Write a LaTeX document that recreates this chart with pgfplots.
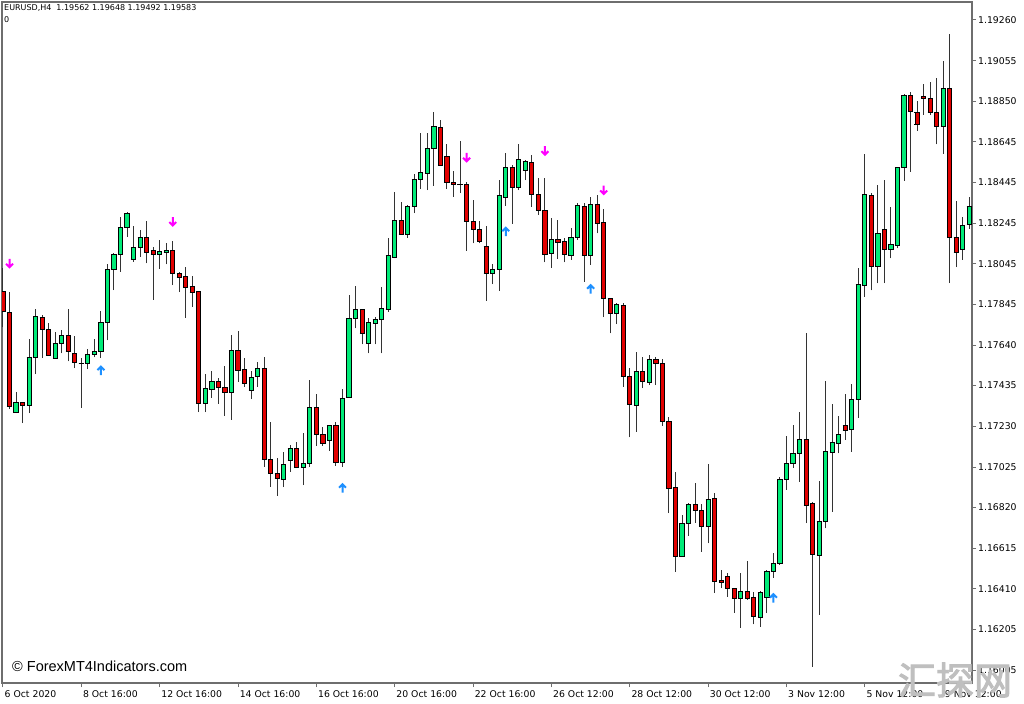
\documentclass[border=0pt]{standalone}
\usepackage{fontspec}
\setmainfont{DejaVu Sans}
\newfontfamily\lib{Liberation Sans}
\newfontfamily\cjk[AutoFakeBold=2.5]{Noto Sans CJK SC}
\usepackage{pgfplots}
\usepackage{pgfplotstable}
\pgfplotsset{compat=1.18}

\definecolor{bullg}{RGB}{0,235,120}
\definecolor{bearr}{RGB}{225,0,0}
\definecolor{sellm}{RGB}{255,0,255}
\definecolor{buyb}{RGB}{30,144,255}
\definecolor{framec}{RGB}{110,110,110}

% arrow marks of the signal indicator
\pgfdeclareplotmark{darr}{%
  \pgfsetlinewidth{2bp}%
  \pgfpathmoveto{\pgfqpoint{0bp}{4.5bp}}\pgfpathlineto{\pgfqpoint{0bp}{-4bp}}%
  \pgfpathmoveto{\pgfqpoint{-3.5bp}{-0.5bp}}\pgfpathlineto{\pgfqpoint{0bp}{-4bp}}%
  \pgfpathlineto{\pgfqpoint{3.5bp}{-0.5bp}}%
  \pgfusepathqstroke}
\pgfdeclareplotmark{uarr}{%
  \pgfsetlinewidth{2bp}%
  \pgfpathmoveto{\pgfqpoint{0bp}{-4.5bp}}\pgfpathlineto{\pgfqpoint{0bp}{4bp}}%
  \pgfpathmoveto{\pgfqpoint{-3.5bp}{0.5bp}}\pgfpathlineto{\pgfqpoint{0bp}{4bp}}%
  \pgfpathlineto{\pgfqpoint{3.5bp}{0.5bp}}%
  \pgfusepathqstroke}

% EURUSD H4, open high low close per bar
\pgfplotstableread{
i o h l c
0 1.17899 1.18016 1.17720 1.17799
1 1.17796 1.17896 1.17310 1.17323
2 1.17293 1.17395 1.17290 1.17345
3 1.17345 1.17345 1.17240 1.17330
4 1.17326 1.17660 1.17290 1.17568
5 1.17568 1.17811 1.17485 1.17774
6 1.17771 1.17782 1.17568 1.17707
7 1.17707 1.17741 1.17580 1.17580
8 1.17565 1.17695 1.17565 1.17640
9 1.17640 1.17707 1.17590 1.17677
10 1.17677 1.17811 1.17550 1.17600
11 1.17590 1.17677 1.17515 1.17545
12 1.17539 1.17568 1.17318 1.17539
13 1.17537 1.17610 1.17510 1.17583
14 1.17583 1.17660 1.17570 1.17600
15 1.17600 1.17802 1.17567 1.17744
16 1.17746 1.18036 1.17655 1.18011
17 1.18008 1.18094 1.17906 1.18083
18 1.18083 1.18272 1.17999 1.18221
19 1.18221 1.18300 1.18174 1.18288
20 1.18061 1.18228 1.18049 1.18119
21 1.18119 1.18208 1.18074 1.18171
22 1.18171 1.18255 1.18041 1.18096
23 1.18103 1.18124 1.17857 1.18086
24 1.18086 1.18158 1.18013 1.18099
25 1.18094 1.18144 1.18036 1.18104
26 1.18104 1.18153 1.17932 1.17988
27 1.17989 1.17999 1.17896 1.17971
28 1.17974 1.18024 1.17769 1.17921
29 1.17924 1.17977 1.17824 1.17896
30 1.17902 1.17902 1.17295 1.17336
31 1.17336 1.17485 1.17295 1.17416
32 1.17406 1.17503 1.17368 1.17450
33 1.17448 1.17465 1.17338 1.17420
34 1.17420 1.17527 1.17278 1.17393
35 1.17393 1.17683 1.17258 1.17605
36 1.17605 1.17703 1.17448 1.17503
37 1.17510 1.17565 1.17423 1.17438
38 1.17405 1.17503 1.17360 1.17470
39 1.17473 1.17548 1.17423 1.17513
40 1.17513 1.17570 1.17022 1.17056
41 1.17056 1.17245 1.16922 1.16986
42 1.16986 1.17064 1.16875 1.16964
43 1.16960 1.17094 1.16919 1.17031
44 1.17051 1.17131 1.16997 1.17114
45 1.17114 1.17144 1.17014 1.17017
46 1.17019 1.17189 1.16930 1.17039
47 1.17039 1.17456 1.17019 1.17320
48 1.17320 1.17385 1.17127 1.17181
49 1.17181 1.17221 1.17127 1.17139
50 1.17152 1.17231 1.17102 1.17227
51 1.17227 1.17245 1.17027 1.17042
52 1.17044 1.17411 1.17022 1.17365
53 1.17368 1.17882 1.17368 1.17764
54 1.17762 1.17929 1.17715 1.17811
55 1.17807 1.17807 1.17635 1.17690
56 1.17640 1.17766 1.17590 1.17744
57 1.17737 1.17774 1.17635 1.17761
58 1.17761 1.17924 1.17590 1.17812
59 1.17807 1.18169 1.17799 1.18079
60 1.18071 1.18397 1.18066 1.18255
61 1.18255 1.18350 1.18183 1.18186
62 1.18186 1.18333 1.18169 1.18325
63 1.18325 1.18488 1.18292 1.18463
64 1.18462 1.18692 1.18413 1.18497
65 1.18492 1.18694 1.18407 1.18614
66 1.18614 1.18798 1.18430 1.18725
67 1.18720 1.18759 1.18529 1.18530
68 1.18575 1.18639 1.18413 1.18447
69 1.18448 1.18502 1.18373 1.18438
70 1.18437 1.18655 1.18392 1.18437
71 1.18437 1.18447 1.18104 1.18250
72 1.18250 1.18358 1.18141 1.18211
73 1.18211 1.18255 1.18141 1.18149
74 1.18124 1.18228 1.17854 1.17988
75 1.17988 1.18038 1.17937 1.18009
76 1.18009 1.18458 1.17904 1.18378
77 1.18372 1.18592 1.18330 1.18522
78 1.18522 1.18534 1.18238 1.18422
79 1.18422 1.18637 1.18408 1.18559
80 1.18507 1.18559 1.18458 1.18550
81 1.18545 1.18584 1.18325 1.18383
82 1.18387 1.18467 1.18283 1.18303
83 1.18303 1.18467 1.18046 1.18086
84 1.18089 1.18270 1.18019 1.18161
85 1.18161 1.18258 1.18063 1.18146
86 1.18149 1.18169 1.18046 1.18083
87 1.18079 1.18216 1.18058 1.18171
88 1.18171 1.18342 1.18158 1.18328
89 1.18325 1.18342 1.17949 1.18079
90 1.18079 1.18375 1.18033 1.18337
91 1.18337 1.18383 1.18191 1.18241
92 1.18243 1.18313 1.17771 1.17866
93 1.17862 1.17862 1.17690 1.17791
94 1.17791 1.17841 1.17736 1.17836
95 1.17831 1.17841 1.17423 1.17473
96 1.17476 1.17518 1.17169 1.17335
97 1.17330 1.17595 1.17197 1.17498
98 1.17498 1.17570 1.17415 1.17448
99 1.17445 1.17580 1.17431 1.17560
100 1.17560 1.17570 1.17431 1.17540
101 1.17540 1.17562 1.17227 1.17247
102 1.17247 1.17273 1.16789 1.16912
103 1.16919 1.16994 1.16496 1.16571
104 1.16571 1.16780 1.16571 1.16739
105 1.16739 1.16839 1.16675 1.16834
106 1.16834 1.16939 1.16742 1.16802
107 1.16800 1.16835 1.16596 1.16721
108 1.16721 1.17034 1.16638 1.16859
109 1.16864 1.16892 1.16391 1.16449
110 1.16454 1.16505 1.16413 1.16443
111 1.16471 1.16491 1.16371 1.16413
112 1.16413 1.16413 1.16291 1.16363
113 1.16363 1.16488 1.16215 1.16396
114 1.16396 1.16550 1.16354 1.16363
115 1.16368 1.16396 1.16232 1.16270
116 1.16265 1.16399 1.16220 1.16393
117 1.16368 1.16505 1.16288 1.16496
118 1.16496 1.16591 1.16466 1.16538
119 1.16538 1.16972 1.16530 1.16959
120 1.16959 1.17177 1.16905 1.17036
121 1.17036 1.17231 1.17017 1.17089
122 1.17089 1.17296 1.16947 1.17156
123 1.17156 1.17693 1.16739 1.16825
124 1.16835 1.16847 1.16020 1.16580
125 1.16575 1.16948 1.16279 1.16748
126 1.16748 1.17451 1.16713 1.17097
127 1.17094 1.17335 1.16797 1.17142
128 1.17139 1.17278 1.17089 1.17184
129 1.17226 1.17385 1.17156 1.17202
130 1.17206 1.17436 1.17097 1.17356
131 1.17356 1.18016 1.17268 1.17936
132 1.17929 1.18589 1.17874 1.18383
133 1.18378 1.18392 1.17905 1.18024
134 1.18024 1.18433 1.17940 1.18190
135 1.18211 1.18458 1.17941 1.18111
136 1.18111 1.18325 1.18066 1.18133
137 1.18129 1.18522 1.18116 1.18522
138 1.18522 1.18889 1.18455 1.18881
139 1.18881 1.18898 1.18500 1.18801
140 1.18796 1.18854 1.18704 1.18737
141 1.18878 1.18939 1.18784 1.18866
142 1.18864 1.18948 1.18784 1.18796
143 1.18796 1.18971 1.18637 1.18725
144 1.18725 1.19056 1.18589 1.18918
145 1.18918 1.19188 1.17941 1.18171
146 1.18171 1.18353 1.18021 1.18094
147 1.18111 1.18272 1.18058 1.18229
148 1.18233 1.18375 1.18213 1.18325
}\ohlc

\newcommand\tickfont{\fontsize{9.3bp}{11bp}\selectfont}

\pgfplotsset{
  wick/.style={draw=none, mark=none,
    error bars/y dir=plus, error bars/y explicit, error bars/error mark=none,
    error bars/error bar style={draw=black!80, line width=1bp}},
  bodyline/.style={draw=none, mark=none,
    error bars/y dir=plus, error bars/y explicit, error bars/error mark=none,
    error bars/error bar style={draw=black, line width=5.2bp}},
  bodyfill/.style={draw=none, mark=none,
    error bars/y dir=both, error bars/y explicit, error bars/error mark=-,
    error bars/error mark options={rotate=90, draw=black, line width=1bp, mark size=2.6bp},
    error bars/error bar style={draw=#1, line width=3.2bp}},
  isbull/.style={restrict expr to domain={\thisrow{c}-\thisrow{o}}{0:1}},
  isbear/.style={restrict expr to domain={\thisrow{o}-\thisrow{c}}{0.0000001:1}},
}

\begin{document}
\begin{tikzpicture}
\useasboundingbox (0,0) rectangle (1024bp,704bp);
\clip (0,0) rectangle (1024bp,704bp);
\fill[white] (0,0) rectangle (1024bp,704bp);
\begin{axis}[
    scale only axis,
    width=970bp, height=681bp,
    at={(2bp,21bp)}, anchor=south west,
    xmin=-0.153, xmax=148.41,
    ymin=1.15938, ymax=1.19350,
    axis line style={framec, line width=1.2bp},
    tick style={framec, line width=1bp},
    tick align=outside,
    major tick length=4bp,
    xtick pos=left, ytick pos=right,
    yticklabel pos=right,
    xtick={0,12,...,144},
    xticklabels={6 Oct 2020, 8 Oct 16:00, 12 Oct 16:00, 14 Oct 16:00,
      16 Oct 16:00, 20 Oct 16:00, 22 Oct 16:00, 26 Oct 12:00,
      28 Oct 12:00, 30 Oct 12:00, 3 Nov 12:00, 5 Nov 12:00, 9 Nov 12:00},
    ytick={1.19260,1.19056,1.18853,1.18649,1.18446,1.18242,1.18038,1.17835,
      1.17631,1.17428,1.17224,1.17020,1.16817,1.16613,1.16410,1.16206,1.16002},
    yticklabels={1.19260,1.19055,1.18850,1.18645,1.18445,1.18245,1.18045,1.17845,
      1.17640,1.17435,1.17230,1.17025,1.16820,1.16615,1.16410,1.16205,1.16005},
    tick label style={font=\tickfont, text=black, inner sep=0pt},
    xticklabel style={anchor=north west, xshift=1.5bp, yshift=-3bp},
    yticklabel style={anchor=west, xshift=2bp},
    clip=true,
]
% wicks
\addplot[wick] table[x=i, y=l, y error plus expr=\thisrow{h}-\thisrow{l}] {\ohlc};
% bull bodies
\addplot[bodyline, isbull] table[x=i, y=o, y error plus expr=\thisrow{c}-\thisrow{o}] {\ohlc};
\addplot[bodyfill=bullg, isbull] table[x=i, y=o,
  y error plus expr=\thisrow{c}-\thisrow{o}, y error minus expr=0] {\ohlc};
% bear bodies
\addplot[bodyline, isbear] table[x=i, y=c, y error plus expr=\thisrow{o}-\thisrow{c}] {\ohlc};
\addplot[bodyfill=bearr, isbear] table[x=i, y=c,
  y error plus expr=\thisrow{o}-\thisrow{c}, y error minus expr=0] {\ohlc};

% sell / buy signal arrows
\addplot[only marks, mark=darr, sellm] coordinates {
  (1,1.18041) (26,1.18250) (71,1.18572) (83,1.18605) (92,1.18408)};
\addplot[only marks, mark=uarr, buyb] coordinates {
  (15,1.17503) (52,1.16914) (77,1.18199) (90,1.17911) (118,1.16363)};
\end{axis}

\node[anchor=west, inner sep=0pt, font=\fontsize{8bp}{9bp}\selectfont]
  at (4bp,696bp) {EURUSD,H4\ \ 1.19562 1.19648 1.19492 1.19583};
\node[anchor=west, inner sep=0pt, font=\fontsize{8bp}{9bp}\selectfont]
  at (4bp,684bp) {0};
\node[anchor=west, inner sep=0pt, font=\lib\fontsize{14.5bp}{16bp}\selectfont]
  at (12bp,38bp) {© ForexMT4Indicators.com};
\node[inner sep=0pt, text=gray!50, font=\cjk\bfseries\fontsize{38bp}{40bp}\selectfont]
  at (955bp,24bp) {汇探网};
\end{tikzpicture}
\end{document}
